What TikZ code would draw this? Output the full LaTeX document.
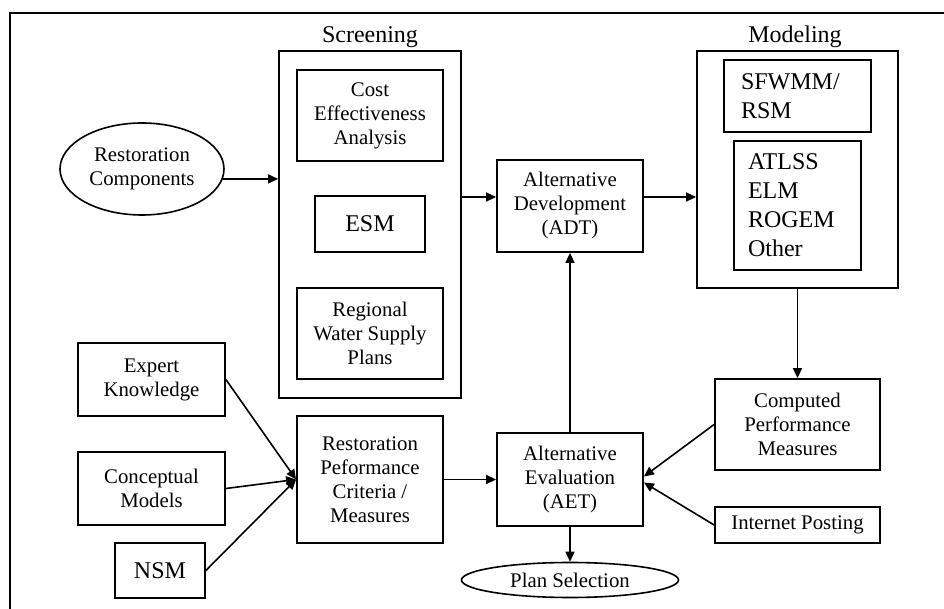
\documentclass[tikz,border=0pt]{standalone}
\usepackage{fontspec}
\setmainfont{Liberation Serif}
\usetikzlibrary{positioning, arrows.meta, shapes.geometric, calc}

\begin{document}
\begin{tikzpicture}[x=0.5pt, y=-0.5pt,
  box/.style={draw, rectangle, line width=0.9pt, align=center, inner sep=0pt, font=\fontsize{10.4}{12}\selectfont},
  bigbox/.style={box, font=\fontsize{12}{14.5}\selectfont},
  oval/.style={draw, ellipse, line width=0.8pt, inner sep=0pt, align=center, font=\fontsize{10.4}{12}\selectfont},
  grouptitle/.style={font=\fontsize{12}{14}\selectfont},
  flow/.style={-{Triangle[length=5pt, width=4.5pt]}, line width=0.8pt}]
  \useasboundingbox (0,0) rectangle (944,609);
  \draw[line width=0.7pt] (10,609) -- (10,13) -- (944,13);

  % screening group
  \node[box, minimum width=91pt, minimum height=173.5pt] (screen) at (370,224.5) {};
  \node[grouptitle] (screentitle) at (370,37) {Screening};
  \node[box, minimum width=73pt, minimum height=45.5pt] (cea) at (370,115.5) {Cost\\Effectiveness\\Analysis};
  \node[bigbox, minimum width=55pt, minimum height=28pt] (esm) at (370,224) {ESM};
  \node[box, minimum width=73pt, minimum height=45.5pt] (rwsp) at (370,333.5) {Regional\\Water Supply\\Plans};

  \node[oval, minimum width=82pt, minimum height=46pt] (rescomp) at (142,169) {Restoration\\Components};
  \node[box, minimum width=73pt, minimum height=46pt] (adt) at (570,206) {Alternative\\Development\\(ADT)};

  % modeling group
  \node[box, minimum width=100.5pt, minimum height=118.5pt] (modeling) at (797.5,169.5) {};
  \node[grouptitle] (modeltitle) at (795,37) {Modeling};
  \node[bigbox, text width=56.5pt, align=left, minimum width=73.5pt, minimum height=36pt] (sfwmm) at (797.5,96) {SFWMM/\\RSM};
  \node[bigbox, text width=49.5pt, align=left, minimum width=63.5pt, minimum height=64.5pt] (models) at (797.5,205.5) {ATLSS\\ELM\\ROGEM\\Other};

  \node[box, minimum width=82.5pt, minimum height=45.5pt] (cpm) at (797.5,424.5) {Computed\\Performance\\Measures};
  \node[box, minimum width=82.5pt, minimum height=18pt] (inet) at (797.5,525) {Internet Posting};
  \node[box, minimum width=73pt, minimum height=46.5pt] (aet) at (570,479.5) {Alternative\\Evaluation\\(AET)};
  \node[oval, minimum width=108.5pt, minimum height=17.5pt] (plan) at (570,580) {Plan Selection};
  \node[box, minimum width=73pt, minimum height=63.5pt] (rpcm) at (370,479.5) {Restoration\\Peformance\\Criteria /\\Measures};

  \node[box, minimum width=73.5pt, minimum height=36.5pt] (expert) at (151.5,379.5) {Expert\\Knowledge};
  \node[box, minimum width=73.5pt, minimum height=36.5pt] (concept) at (151.5,488.5) {Conceptual\\Models};
  \node[bigbox, minimum width=45pt, minimum height=27.5pt] (nsm) at (160,570.5) {NSM};

  \coordinate (adtin) at ([yshift=4.5pt]adt.west);
  \coordinate (adtout) at ([yshift=4.5pt]adt.east);

  \draw[flow] (rescomp.-7) -- (rescomp.-7 -| screen.west);
  \draw[flow] (screen.east |- adtin) -- (adtin);
  \draw[flow] (adtout) -- (adtout -| modeling.west);
  \draw[flow] (modeling) -- (cpm);
  \draw[flow] (cpm.west) -- ([yshift=1.5pt]aet.east);
  \draw[flow] (inet.west) -- ([yshift=-1.5pt]aet.east);
  \draw[flow] (aet) -- (adt);
  \draw[flow] (aet) -- (plan);
  \draw[flow] (rpcm) -- (aet);
  \draw[flow] (expert.east) -- (rpcm.west);
  \draw[flow] (concept.east) -- (rpcm.west);
  \draw[flow] (nsm.east) -- (rpcm.west);
\end{tikzpicture}
\end{document}
